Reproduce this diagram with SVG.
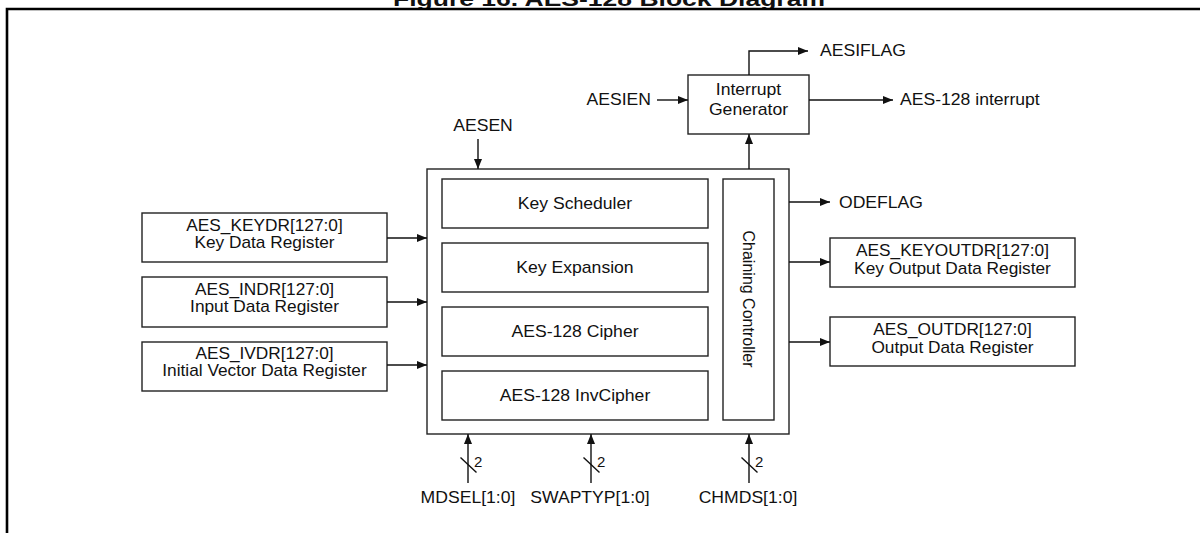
<svg xmlns="http://www.w3.org/2000/svg" width="1200" height="533" viewBox="0 0 1200 533">
<style>
text{font-family:"Liberation Sans",Arial,sans-serif;font-size:16px;fill:#111}
.c{text-anchor:middle}
.e{text-anchor:end}
.box{fill:#fff;stroke:#222;stroke-width:1.4}
.ln{fill:none;stroke:#111;stroke-width:1.4}
.ar{marker-end:url(#ah)}
.t{font-weight:bold;font-size:21px}
</style>
<defs>
<marker id="ah" markerUnits="userSpaceOnUse" markerWidth="11" markerHeight="9" refX="10" refY="4" orient="auto"><path d="M0,0 L10,4 L0,8 z" fill="#111"/></marker>
</defs>
<rect width="1200" height="533" fill="#fff"/>
<text class="t c" x="609" y="5.5" textLength="432" lengthAdjust="spacingAndGlyphs">Figure 16. AES-128 Block Diagram</text>
<path d="M7,533 V9 H1200" fill="none" stroke="#000" stroke-width="2.6"/>

<g id="main">
<rect class="box" x="427" y="169" width="362" height="265"/>
</g>
<g id="keysched"><rect class="box" x="442" y="179" width="266" height="49"/><text class="c" transform="translate(575,209) scale(1.1,1)">Key Scheduler</text></g>
<g id="keyexp"><rect class="box" x="442" y="243" width="266" height="49"/><text class="c" transform="translate(575,273) scale(1.1,1)">Key Expansion</text></g>
<g id="cipher"><rect class="box" x="442" y="307" width="266" height="49"/><text class="c" transform="translate(575,337) scale(1.1,1)">AES-128 Cipher</text></g>
<g id="invcipher"><rect class="box" x="442" y="371" width="266" height="49"/><text class="c" transform="translate(575,401) scale(1.1,1)">AES-128 InvCipher</text></g>
<g id="chaining"><rect class="box" x="723" y="179" width="51" height="241"/><text class="c" transform="translate(743,299) rotate(90)">Chaining Controller</text></g>

<g id="intgen"><rect class="box" x="688" y="75" width="121" height="59"/><text class="c" transform="translate(748.5,95) scale(1.1,1)"><tspan x="0">Interrupt</tspan><tspan x="0" dy="20">Generator</tspan></text></g>

<g id="keydr"><rect class="box" x="142" y="213" width="245" height="49"/><text class="c" transform="translate(264.5,231) scale(1.08,1)"><tspan x="0">AES_KEYDR[127:0]</tspan><tspan x="0" dy="17">Key Data Register</tspan></text></g>
<g id="indr"><rect class="box" x="142" y="277" width="245" height="50"/><text class="c" transform="translate(264.5,295) scale(1.08,1)"><tspan x="0">AES_INDR[127:0]</tspan><tspan x="0" dy="17">Input Data Register</tspan></text></g>
<g id="ivdr"><rect class="box" x="142" y="342" width="245" height="49"/><text class="c" transform="translate(264.5,359) scale(1.08,1)"><tspan x="0">AES_IVDR[127:0]</tspan><tspan x="0" dy="17">Initial Vector Data Register</tspan></text></g>
<g id="keyoutdr"><rect class="box" x="830" y="238" width="245" height="49"/><text class="c" transform="translate(952.5,256) scale(1.08,1)"><tspan x="0">AES_KEYOUTDR[127:0]</tspan><tspan x="0" dy="18">Key Output Data Register</tspan></text></g>
<g id="outdr"><rect class="box" x="830" y="317" width="245" height="49"/><text class="c" transform="translate(952.5,335) scale(1.08,1)"><tspan x="0">AES_OUTDR[127:0]</tspan><tspan x="0" dy="18">Output Data Register</tspan></text></g>

<g id="labels">
<text transform="translate(820,56) scale(1.1,1)">AESIFLAG</text>
<text class="e" transform="translate(651,105) scale(1.1,1)">AESIEN</text>
<text transform="translate(900,105) scale(1.1,1)">AES-128 interrupt</text>
<text class="c" transform="translate(483,131) scale(1.1,1)">AESEN</text>
<text transform="translate(839,208) scale(1.1,1)">ODEFLAG</text>
<text class="c" transform="translate(468,503) scale(1.1,1)">MDSEL[1:0]</text>
<text class="c" transform="translate(590,503) scale(1.1,1)">SWAPTYP[1:0]</text>
<text class="c" transform="translate(748,503) scale(1.1,1)">CHMDS[1:0]</text>
<text x="474" y="467" style="font-size:15px">2</text>
<text x="597" y="467" style="font-size:15px">2</text>
<text x="755" y="467" style="font-size:15px">2</text>
</g>

<g id="connectors">
<path class="ln ar" d="M749,75 V51 H808"/>
<path class="ln ar" d="M657,100 H688"/>
<path class="ln ar" d="M809,100 H893"/>
<path class="ln ar" d="M749,169 V134"/>
<path class="ln ar" d="M478,139 V169"/>
<path class="ln ar" d="M387,238 H427"/>
<path class="ln ar" d="M387,302 H427"/>
<path class="ln ar" d="M387,365 H427"/>
<path class="ln ar" d="M789,202 H830"/>
<path class="ln ar" d="M789,262 H830"/>
<path class="ln ar" d="M789,342 H830"/>
<path class="ln ar" d="M468,483 V434"/>
<path class="ln ar" d="M591,483 V434"/>
<path class="ln ar" d="M749,483 V434"/>
<path class="ln" d="M460.5,457.5 L476.5,472.5 M583.5,457.5 L599.5,472.5 M741.5,457.5 L757.5,472.5"/>
</g>
</svg>
